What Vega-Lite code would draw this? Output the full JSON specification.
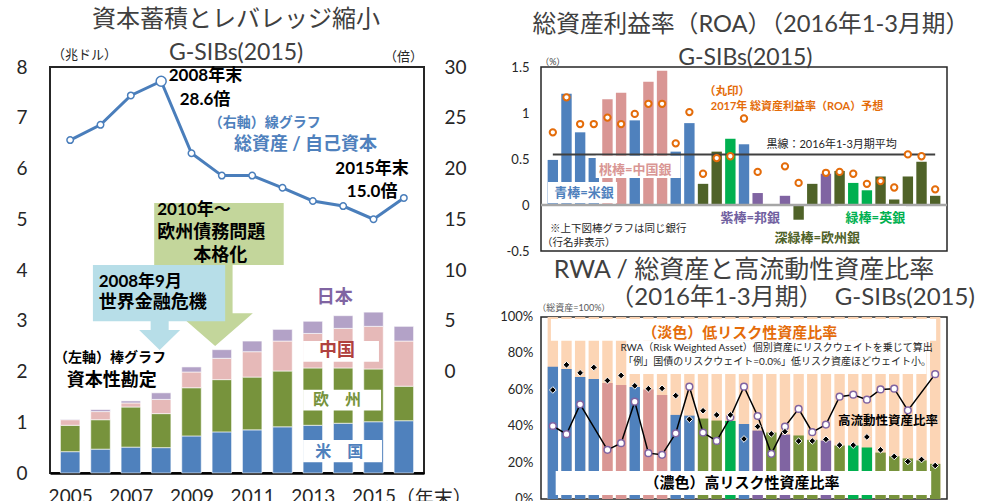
{
"$schema":"https://vega.github.io/schema/vega-lite/v6.json",
"background":"white",
"padding":{"left":14,"top":6,"right":0,"bottom":0},
"config":{"font":"Lato, Noto Sans CJK JP","view":{"stroke":null},"axis":{"labelFont":"Lato, Noto Sans CJK JP","labelColor":"#262626","labelFlush":false,"labelOverlap":false,"grid":false,"ticks":false,"domain":false},"text":{"font":"Lato, Noto Sans CJK JP"}},
"datasets":{
"cap":[
{"year":2005,"r":"1US","v":0.42},{"year":2005,"r":"2EU","v":0.52},{"year":2005,"r":"3CN","v":0.11},{"year":2005,"r":"4JP","v":0.01},
{"year":2006,"r":"1US","v":0.47},{"year":2006,"r":"2EU","v":0.58},{"year":2006,"r":"3CN","v":0.16},{"year":2006,"r":"4JP","v":0.04},
{"year":2007,"r":"1US","v":0.51},{"year":2007,"r":"2EU","v":0.79},{"year":2007,"r":"3CN","v":0.08},{"year":2007,"r":"4JP","v":0.04},
{"year":2008,"r":"1US","v":0.50},{"year":2008,"r":"2EU","v":0.67},{"year":2008,"r":"3CN","v":0.28},{"year":2008,"r":"4JP","v":0.13},
{"year":2009,"r":"1US","v":0.73},{"year":2009,"r":"2EU","v":0.95},{"year":2009,"r":"3CN","v":0.31},{"year":2009,"r":"4JP","v":0.10},
{"year":2010,"r":"1US","v":0.81},{"year":2010,"r":"2EU","v":1.03},{"year":2010,"r":"3CN","v":0.42},{"year":2010,"r":"4JP","v":0.17},
{"year":2011,"r":"1US","v":0.85},{"year":2011,"r":"2EU","v":1.04},{"year":2011,"r":"3CN","v":0.50},{"year":2011,"r":"4JP","v":0.21},
{"year":2012,"r":"1US","v":0.91},{"year":2012,"r":"2EU","v":1.10},{"year":2012,"r":"3CN","v":0.59},{"year":2012,"r":"4JP","v":0.23},
{"year":2013,"r":"1US","v":0.94},{"year":2013,"r":"2EU","v":1.13},{"year":2013,"r":"3CN","v":0.68},{"year":2013,"r":"4JP","v":0.24},
{"year":2014,"r":"1US","v":0.98},{"year":2014,"r":"2EU","v":1.09},{"year":2014,"r":"3CN","v":0.78},{"year":2014,"r":"4JP","v":0.25},
{"year":2015,"r":"1US","v":1.01},{"year":2015,"r":"2EU","v":1.04},{"year":2015,"r":"3CN","v":0.84},{"year":2015,"r":"4JP","v":0.28},
{"year":2016,"r":"1US","v":1.03},{"year":2016,"r":"2EU","v":0.68},{"year":2016,"r":"3CN","v":0.89},{"year":2016,"r":"4JP","v":0.29}
],
"lev":[
{"year":2005,"lev":22.8},{"year":2006,"lev":24.3},{"year":2007,"lev":27.2},{"year":2008,"lev":28.6},{"year":2009,"lev":21.5},{"year":2010,"lev":19.3},{"year":2011,"lev":19.3},{"year":2012,"lev":18.1},{"year":2013,"lev":16.8},{"year":2014,"lev":16.3},{"year":2015,"lev":15.0},{"year":2016,"lev":17.1}
],
"pct":[{"p":0,"label":"0%"},{"p":20,"label":"20%"},{"p":40,"label":"40%"},{"p":60,"label":"60%"},{"p":80,"label":"80%"},{"p":100,"label":"100%"}],
"banks":[
{"idx":1,"g":"US","roa":0.49,"f":0.79,"hi":72.6,"rwa":59.9,"liq":40.1},
{"idx":2,"g":"US","roa":1.21,"f":1.17,"hi":71.4,"rwa":73.7,"liq":35.6},
{"idx":3,"g":"US","roa":0.79,"f":0.88,"hi":67.0,"rwa":69.3,"liq":52.0},
{"idx":4,"g":"US","roa":0.51,"f":0.88,"hi":65.9,"rwa":72.3,"liq":null},
{"idx":5,"g":"CN","roa":1.15,"f":0.95,"hi":63.7,"rwa":65.1,"liq":27.0},
{"idx":6,"g":"CN","roa":1.22,"f":0.88,"hi":62.6,"rwa":67.9,"liq":30.7},
{"idx":7,"g":"US","roa":0.92,"f":0.99,"hi":61.5,"rwa":62.2,"liq":53.5},
{"idx":8,"g":"CN","roa":1.34,"f":1.10,"hi":60.2,"rwa":60.6,"liq":25.2},
{"idx":9,"g":"CN","roa":1.46,"f":1.10,"hi":57.1,"rwa":60.8,"liq":24.3},
{"idx":10,"g":"US","roa":0.58,"f":0.67,"hi":46.2,"rwa":56.8,"liq":36.1},
{"idx":11,"g":"US","roa":0.89,"f":1.01,"hi":45.8,"rwa":43.8,"liq":61.7},
{"idx":12,"g":"EU","roa":0.23,"f":0.34,"hi":44.2,"rwa":48.5,"liq":36.5},
{"idx":13,"g":"EU","roa":0.58,"f":0.51,"hi":43.1,"rwa":46.2,"liq":31.9},
{"idx":14,"g":"UK","roa":0.72,"f":0.53,"hi":42.9,"rwa":46.2,"liq":44.9},
{"idx":15,"g":"US","roa":0.66,"f":0.94,"hi":41.2,"rwa":33.0,"liq":61.7},
{"idx":16,"g":"JP","roa":0.13,"f":0.36,"hi":37.6,"rwa":39.8,"liq":45.6},
{"idx":17,"g":"EU","roa":null,"f":null,"hi":36.5,"rwa":35.8,"liq":24.8},
{"idx":18,"g":"JP","roa":0.10,"f":0.42,"hi":35.4,"rwa":37.0,"liq":39.8},
{"idx":19,"g":"EU","roa":-0.16,"f":0.24,"hi":34.9,"rwa":31.8,"liq":49.5},
{"idx":20,"g":"EU","roa":0.23,"f":null,"hi":32.5,"rwa":31.9,"liq":36.7},
{"idx":21,"g":"JP","roa":0.34,"f":0.35,"hi":32.1,"rwa":32.8,"liq":40.9},
{"idx":22,"g":"EU","roa":0.37,"f":0.36,"hi":29.4,"rwa":29.6,"liq":56.2},
{"idx":23,"g":"UK","roa":0.24,"f":0.34,"hi":29.4,"rwa":29.6,"liq":57.3},
{"idx":24,"g":"UK","roa":0.16,"f":0.23,"hi":28.3,"rwa":34.1,"liq":54.6},
{"idx":25,"g":"EU","roa":0.31,"f":0.26,"hi":25.5,"rwa":27.0,"liq":60.2},
{"idx":26,"g":"EU","roa":0.06,"f":0.19,"hi":23.5,"rwa":23.4,"liq":60.6},
{"idx":27,"g":"EU","roa":0.31,"f":0.55,"hi":22.3,"rwa":20.6,"liq":48.7},
{"idx":28,"g":"EU","roa":0.47,"f":0.53,"hi":21.2,"rwa":21.7,"liq":null},
{"idx":29,"g":"EU","roa":0.10,"f":0.17,"hi":19.3,"rwa":18.4,"liq":68.6}
]
},
"bounds":"flush",
"spacing":117,
"resolve":{"scale":{"x":"independent","y":"independent","color":"independent"}},
"hconcat":[
{
"width":374,"height":406,
"view":{"stroke":"#262626","strokeWidth":2},
"resolve":{"scale":{"y":"independent"}},
"layer":[
{"layer":[
{"data":{"name":"cap"},"mark":{"type":"bar","width":19.5,"stroke":"white","strokeWidth":0.6},
"encoding":{
"x":{"field":"year","type":"quantitative","scale":{"domain":[2004.5,2016.5],"nice":false,"zero":false},"axis":{"title":null,"values":[2005,2007,2009,2011,2013,2015],"format":"d","labelFontSize":19,"labelPadding":14,"domain":true,"domainColor":"#000","domainWidth":2.5}},
"y":{"field":"v","type":"quantitative","stack":"zero","scale":{"domain":[0,8],"nice":false},"axis":{"title":null,"values":[0,1,2,3,4,5,6,7,8],"labelFontSize":19,"labelPadding":23}},
"color":{"field":"r","type":"nominal","scale":{"domain":["1US","2EU","3CN","4JP"],"range":["#4f81bd","#77933c","#e6b9b8","#b3a2c7"]},"legend":null},
"order":{"field":"r","sort":"ascending"}}},
{"data":{"values":[{}]},"mark":{"type":"rect","color":"#c3d69b"},"encoding":{"x":{"datum":2007.77},"x2":{"datum":2012.04},"y":{"datum":5.32},"y2":{"datum":4.10}}},
{"data":{"values":[{}]},"mark":{"type":"point","shape":"M-0.43,-1.05L0.43,-1.05L0.43,0.19L0.93,0.19L0,1L-0.93,0.19L-0.43,0.19Z","size":6561,"filled":true,"color":"#c3d69b","opacity":1,"strokeWidth":0},"encoding":{"x":{"datum":2009.78},"y":{"datum":3.30}}},
{"data":{"values":[{}]},"mark":{"type":"text","text":"2010年～","fontSize":17,"fontWeight":"bold","align":"left","baseline":"middle","color":"#000"},"encoding":{"x":{"datum":2007.87},"y":{"datum":5.18}}},
{"data":{"values":[{}]},"mark":{"type":"text","text":"欧州債務問題","fontSize":18,"fontWeight":"bold","align":"left","baseline":"middle","color":"#000"},"encoding":{"x":{"datum":2007.87},"y":{"datum":4.73}}},
{"data":{"values":[{}]},"mark":{"type":"text","text":"本格化","fontSize":18,"fontWeight":"bold","align":"center","baseline":"middle","color":"#000"},"encoding":{"x":{"datum":2009.95},"y":{"datum":4.28}}},
{"data":{"values":[{}]},"mark":{"type":"rect","color":"#b7dee8"},"encoding":{"x":{"datum":2005.75},"x2":{"datum":2010.11},"y":{"datum":4.10},"y2":{"datum":2.99}}},
{"data":{"values":[{}]},"mark":{"type":"point","shape":"M-0.44,-0.75L0.44,-0.75L0.44,-0.27L1,-0.27L0,0.71L-1,-0.27L-0.44,-0.27Z","size":1681,"filled":true,"color":"#b7dee8","opacity":1,"strokeWidth":0},"encoding":{"x":{"datum":2007.95},"y":{"datum":2.71}}},
{"data":{"values":[{}]},"mark":{"type":"text","text":"2008年9月","fontSize":17,"fontWeight":"bold","align":"left","baseline":"middle","color":"#000"},"encoding":{"x":{"datum":2005.94},"y":{"datum":3.77}}},
{"data":{"values":[{}]},"mark":{"type":"text","text":"世界金融危機","fontSize":18,"fontWeight":"bold","align":"left","baseline":"middle","color":"#000"},"encoding":{"x":{"datum":2005.94},"y":{"datum":3.34}}},
{"data":{"values":[{}]},"mark":{"type":"text","text":"（左軸）棒グラフ","fontSize":14,"fontWeight":"bold","align":"left","baseline":"middle","color":"#000"},"encoding":{"x":{"datum":2004.47},"y":{"datum":2.26}}},
{"data":{"values":[{}]},"mark":{"type":"text","text":"資本性勘定","fontSize":18,"fontWeight":"bold","align":"left","baseline":"middle","color":"#000"},"encoding":{"x":{"datum":2004.89},"y":{"datum":1.81}}},
{"data":{"values":[{}]},"mark":{"type":"rect","color":"white"},"encoding":{"x":{"datum":2012.68},"x2":{"datum":2015.18},"y":{"datum":2.60},"y2":{"datum":2.19}}},
{"data":{"values":[{}]},"mark":{"type":"rect","color":"white"},"encoding":{"x":{"datum":2012.68},"x2":{"datum":2015.25},"y":{"datum":1.64},"y2":{"datum":1.23}}},
{"data":{"values":[{}]},"mark":{"type":"rect","color":"white"},"encoding":{"x":{"datum":2012.68},"x2":{"datum":2015.28},"y":{"datum":0.65},"y2":{"datum":0.21}}},
{"data":{"values":[{}]},"mark":{"type":"text","text":"日本","fontSize":18,"fontWeight":"bold","align":"center","baseline":"middle","color":"#8064a2"},"encoding":{"x":{"datum":2013.72},"y":{"datum":3.45}}},
{"data":{"values":[{}]},"mark":{"type":"text","text":"中国","fontSize":18,"fontWeight":"bold","align":"center","baseline":"middle","color":"#b0413e"},"encoding":{"x":{"datum":2013.80},"y":{"datum":2.40}}},
{"data":{"values":[{}]},"mark":{"type":"text","text":"欧　州","fontSize":16,"fontWeight":"bold","align":"center","baseline":"middle","color":"#77933c"},"encoding":{"x":{"datum":2013.80},"y":{"datum":1.44}}},
{"data":{"values":[{}]},"mark":{"type":"text","text":"米　国","fontSize":16,"fontWeight":"bold","align":"center","baseline":"middle","color":"#4f81bd"},"encoding":{"x":{"datum":2013.87},"y":{"datum":0.41}}},
{"data":{"values":[{}]},"mark":{"type":"text","text":"2008年末","fontSize":17,"fontWeight":"bold","align":"left","baseline":"middle","color":"#000"},"encoding":{"x":{"datum":2008.25},"y":{"datum":7.82}}},
{"data":{"values":[{}]},"mark":{"type":"text","text":"28.6倍","fontSize":17,"fontWeight":"bold","align":"left","baseline":"middle","color":"#000"},"encoding":{"x":{"datum":2008.61},"y":{"datum":7.35}}},
{"data":{"values":[{}]},"mark":{"type":"text","text":"（右軸）線グラフ","fontSize":14,"fontWeight":"bold","align":"left","baseline":"middle","color":"#4f81bd"},"encoding":{"x":{"datum":2009.57},"y":{"datum":6.90}}},
{"data":{"values":[{}]},"mark":{"type":"text","text":"総資産 / 自己資本","fontSize":18,"fontWeight":"bold","align":"left","baseline":"middle","color":"#4f81bd"},"encoding":{"x":{"datum":2010.40},"y":{"datum":6.46}}},
{"data":{"values":[{}]},"mark":{"type":"text","text":"2015年末","fontSize":17,"fontWeight":"bold","align":"left","baseline":"middle","color":"#000"},"encoding":{"x":{"datum":2013.74},"y":{"datum":6.00}}},
{"data":{"values":[{}]},"mark":{"type":"text","text":"15.0倍","fontSize":17,"fontWeight":"bold","align":"left","baseline":"middle","color":"#000"},"encoding":{"x":{"datum":2014.12},"y":{"datum":5.54}}},
{"data":{"values":[{}]},"mark":{"type":"text","text":"資本蓄積とレバレッジ縮小","fontSize":24,"align":"center","baseline":"middle","color":"#404040"},"encoding":{"x":{"datum":2010.47},"y":{"datum":8.93}}},
{"data":{"values":[{}]},"mark":{"type":"text","text":"G-SIBs(2015)","fontSize":23,"align":"center","baseline":"middle","color":"#404040"},"encoding":{"x":{"datum":2010.47},"y":{"datum":8.28}}},
{"data":{"values":[{}]},"mark":{"type":"text","text":"（兆ドル）","fontSize":13,"align":"left","baseline":"middle","color":"#262626"},"encoding":{"x":{"datum":2004.40},"y":{"datum":8.24}}},
{"data":{"values":[{}]},"mark":{"type":"text","text":"（倍）","fontSize":13,"align":"right","baseline":"middle","color":"#262626"},"encoding":{"x":{"datum":2016.63},"y":{"datum":8.20}}},
{"data":{"values":[{}]},"mark":{"type":"text","text":"（年末）","fontSize":19,"align":"left","baseline":"top","color":"#262626"},"encoding":{"x":{"datum":2015.73},"y":{"datum":-0.34}}}
]},
{"data":{"name":"lev"},"layer":[
{"mark":{"type":"line","color":"#4a7ebb","strokeWidth":3},"encoding":{"x":{"field":"year","type":"quantitative","axis":{"title":null}},"y":{"field":"lev","type":"quantitative","scale":{"domain":[-10,30],"nice":false},"axis":{"orient":"right","title":null,"values":[0,5,10,15,20,25,30],"labelFontSize":19,"labelPadding":20}}}},
{"mark":{"type":"point","filled":true,"fill":"white","stroke":"#4a7ebb","strokeWidth":1.5,"opacity":1},"encoding":{"x":{"field":"year","type":"quantitative"},"y":{"field":"lev","type":"quantitative"},"size":{"condition":{"test":"datum.year === 2008","value":100},"value":42}}}
]}
]
},
{
"vconcat":[
{
"width":406,"height":184,
"view":{"stroke":"#262626","strokeWidth":1.5},
"layer":[
{"data":{"name":"banks"},"mark":{"type":"bar","width":10.4},"encoding":{
"x":{"field":"idx","type":"quantitative","scale":{"domain":[0.5,29.5],"nice":false,"zero":false},"axis":null},
"y":{"field":"roa","type":"quantitative","scale":{"domain":[-0.5,1.5],"nice":false},"axis":{"title":null,"values":[-0.5,0,0.5,1,1.5],"labelExpr":"toString(datum.value)","labelFontSize":13,"labelPadding":12,"labelOverlap":false}},
"color":{"field":"g","type":"nominal","scale":{"domain":["US","CN","EU","UK","JP"],"range":["#4f81bd","#d99694","#4f6228","#00b050","#8064a2"]},"legend":null}}},
{"data":{"values":[{}]},"mark":{"type":"rule","color":"#a6a6a6","strokeWidth":2.5},"encoding":{"y":{"datum":0}}},
{"data":{"values":[{}]},"mark":{"type":"rule","color":"#404040","strokeWidth":2},"encoding":{"x":{"datum":1},"x2":{"datum":29},"y":{"datum":0.55}}},
{"data":{"values":[{}]},"mark":{"type":"rect","color":"white"},"encoding":{"x":{"datum":4.14},"x2":{"datum":10.36},"y":{"datum":0.535},"y2":{"datum":0.293}}},
{"data":{"values":[{}]},"mark":{"type":"rect","color":"white"},"encoding":{"x":{"datum":0.64},"x2":{"datum":5.71},"y":{"datum":0.25},"y2":{"datum":0.02}}},
{"data":{"values":[{}]},"mark":{"type":"rect","color":"white"},"encoding":{"x":{"datum":21.86},"x2":{"datum":26.86},"y":{"datum":-0.014},"y2":{"datum":-0.20}}},
{"data":{"name":"banks"},"transform":[{"filter":"isValid(datum.f)"}],"mark":{"type":"point","filled":true,"fill":"white","stroke":"#e46c0a","strokeWidth":2,"size":40,"opacity":1},"encoding":{"x":{"field":"idx","type":"quantitative"},"y":{"field":"f","type":"quantitative"}}},
{"data":{"values":[{}]},"mark":{"type":"text","text":"総資産利益率（ROA）（2016年1-3月期）","fontSize":23.7,"align":"center","baseline":"middle","color":"#404040"},"encoding":{"x":{"datum":15.5},"y":{"datum":1.957}}},
{"data":{"values":[{}]},"mark":{"type":"text","text":"G-SIBs(2015)","fontSize":23,"align":"center","baseline":"middle","color":"#404040"},"encoding":{"x":{"datum":15.1},"y":{"datum":1.598}}},
{"data":{"values":[{}]},"mark":{"type":"text","text":"（%）","fontSize":9,"align":"left","baseline":"middle","color":"#404040"},"encoding":{"x":{"datum":0.07},"y":{"datum":1.551}}},
{"data":{"values":[{}]},"mark":{"type":"text","text":"（丸印）","fontSize":11.5,"fontWeight":"bold","align":"left","baseline":"middle","color":"#e46c0a"},"encoding":{"x":{"datum":12.07},"y":{"datum":1.227}}},
{"data":{"values":[{}]},"mark":{"type":"text","text":"2017年 総資産利益率（ROA）予想","fontSize":11,"fontWeight":"bold","align":"left","baseline":"middle","color":"#e46c0a"},"encoding":{"x":{"datum":12.57},"y":{"datum":1.063}}},
{"data":{"values":[{}]},"mark":{"type":"text","text":"黒線：2016年1-3月期平均","fontSize":11,"align":"left","baseline":"middle","color":"#262626"},"encoding":{"x":{"datum":16.64},"y":{"datum":0.656}}},
{"data":{"values":[{}]},"mark":{"type":"text","text":"桃棒=中国銀","fontSize":13,"fontWeight":"bold","align":"center","baseline":"middle","color":"#d99694"},"encoding":{"x":{"datum":7.04},"y":{"datum":0.378}}},
{"data":{"values":[{}]},"mark":{"type":"text","text":"青棒=米銀","fontSize":13,"fontWeight":"bold","align":"center","baseline":"middle","color":"#4f81bd"},"encoding":{"x":{"datum":3.29},"y":{"datum":0.132}}},
{"data":{"values":[{}]},"mark":{"type":"text","text":"紫棒=邦銀","fontSize":13,"fontWeight":"bold","align":"center","baseline":"middle","color":"#7060a0"},"encoding":{"x":{"datum":15.46},"y":{"datum":-0.146}}},
{"data":{"values":[{}]},"mark":{"type":"text","text":"深緑棒=欧州銀","fontSize":13,"fontWeight":"bold","align":"center","baseline":"middle","color":"#4f6228"},"encoding":{"x":{"datum":20.36},"y":{"datum":-0.363}}},
{"data":{"values":[{}]},"mark":{"type":"text","text":"緑棒=英銀","fontSize":13,"fontWeight":"bold","align":"center","baseline":"middle","color":"#00b050"},"encoding":{"x":{"datum":24.62},"y":{"datum":-0.139}}},
{"data":{"values":[{}]},"mark":{"type":"text","text":"※上下図棒グラフは同じ銀行","fontSize":10.5,"align":"left","baseline":"middle","color":"#262626"},"encoding":{"x":{"datum":0.79},"y":{"datum":-0.259}}},
{"data":{"values":[{}]},"mark":{"type":"text","text":"（行名非表示）","fontSize":10.5,"align":"left","baseline":"middle","color":"#262626"},"encoding":{"x":{"datum":0.21},"y":{"datum":-0.41}}}
]
},
{
"width":406,"height":182,
"view":{"stroke":"#262626","strokeWidth":1.5},
"layer":[
{"data":{"name":"banks"},"mark":{"type":"bar","width":10.4,"color":"#fcd5b5"},"encoding":{
"x":{"field":"idx","type":"quantitative","scale":{"domain":[0.5,29.5],"nice":false,"zero":false},"axis":null},
"y":{"datum":100,"scale":{"domain":[0,100],"nice":false},"axis":null},
"y2":{"datum":0}}},
{"data":{"name":"banks"},"mark":{"type":"bar","width":10.4},"encoding":{
"x":{"field":"idx","type":"quantitative"},
"y":{"field":"hi","type":"quantitative","stack":null,"axis":null},
"color":{"field":"g","type":"nominal","scale":{"domain":["US","CN","EU","UK","JP"],"range":["#4f81bd","#d99694","#77933c","#00b050","#8064a2"]},"legend":null}}},
{"data":{"name":"pct"},"mark":{"type":"text","fontSize":13,"align":"right","baseline":"middle","color":"#262626"},"encoding":{"x":{"datum":-0.43},"y":{"field":"p","type":"quantitative"},"text":{"field":"label"}}},
{"data":{"values":[{}]},"mark":{"type":"rect","color":"white"},"encoding":{"x":{"datum":0.86},"x2":{"datum":29.07},"y":{"datum":98.9},"y2":{"datum":87.0}}},
{"data":{"values":[{}]},"mark":{"type":"rect","color":"white"},"encoding":{"x":{"datum":6.5},"x2":{"datum":28.36},"y":{"datum":87.0},"y2":{"datum":68.7}}},
{"data":{"values":[{}]},"mark":{"type":"rect","color":"white"},"encoding":{"x":{"datum":1.21},"x2":{"datum":28.71},"y":{"datum":15.4},"y2":{"datum":2.2}}},
{"data":{"name":"banks"},"transform":[{"filter":"isValid(datum.liq)"}],"mark":{"type":"line","color":"#000","strokeWidth":1.5},"encoding":{"x":{"field":"idx","type":"quantitative"},"y":{"field":"liq","type":"quantitative"}}},
{"data":{"name":"banks"},"transform":[{"filter":"isValid(datum.liq)"}],"mark":{"type":"point","filled":true,"fill":"white","stroke":"#8064a2","strokeWidth":1.5,"size":45,"opacity":1},"encoding":{"x":{"field":"idx","type":"quantitative"},"y":{"field":"liq","type":"quantitative"}}},
{"data":{"name":"banks"},"mark":{"type":"point","shape":"diamond","filled":true,"fill":"#000","stroke":"white","strokeWidth":1,"size":45,"opacity":1},"encoding":{"x":{"field":"idx","type":"quantitative"},"y":{"field":"rwa","type":"quantitative"}}},
{"data":{"values":[{}]},"mark":{"type":"text","text":"RWA / 総資産と高流動性資産比率","fontSize":25,"align":"center","baseline":"middle","color":"#404040"},"encoding":{"x":{"datum":15.0},"y":{"datum":125.8}}},
{"data":{"values":[{}]},"mark":{"type":"text","text":"（2016年1-3月期）　G-SIBs(2015)","fontSize":24,"align":"left","baseline":"middle","color":"#404040"},"encoding":{"x":{"datum":5.21},"y":{"datum":110.4}}},
{"data":{"values":[{}]},"mark":{"type":"text","text":"（総資産=100%）","fontSize":9,"align":"left","baseline":"middle","color":"#595959"},"encoding":{"x":{"datum":-0.14},"y":{"datum":104.9}}},
{"data":{"values":[{}]},"mark":{"type":"text","text":"（淡色）低リスク性資産比率","fontSize":15,"fontWeight":"bold","align":"center","baseline":"middle","color":"#e46c0a"},"encoding":{"x":{"datum":14.68},"y":{"datum":91.0}}},
{"data":{"values":[{}]},"mark":{"type":"text","text":"RWA（Risk Weighted Asset）個別資産にリスクウェイトを乗じて算出","fontSize":10,"align":"center","baseline":"middle","color":"#262626"},"encoding":{"x":{"datum":17.39},"y":{"datum":82.8}}},
{"data":{"values":[{}]},"mark":{"type":"text","text":"「例」国債のリスクウェイト=0.0%」低リスク資産ほどウェイト小。","fontSize":10,"align":"center","baseline":"middle","color":"#262626"},"encoding":{"x":{"datum":17.43},"y":{"datum":75.4}}},
{"data":{"values":[{}]},"mark":{"type":"text","text":"（濃色）高リスク性資産比率","fontSize":15,"fontWeight":"bold","align":"center","baseline":"middle","color":"#000"},"encoding":{"x":{"datum":14.86},"y":{"datum":8.6}}},
{"data":{"values":[{}]},"mark":{"type":"text","text":"高流動性資産比率","fontSize":12.5,"fontWeight":"bold","align":"center","baseline":"middle","color":"#000"},"encoding":{"x":{"datum":25.54},"y":{"datum":43.0}}}
]
}
],
"spacing":66,
"bounds":"flush",
"resolve":{"scale":{"x":"independent","y":"independent","color":"independent"}}
}
]
}
